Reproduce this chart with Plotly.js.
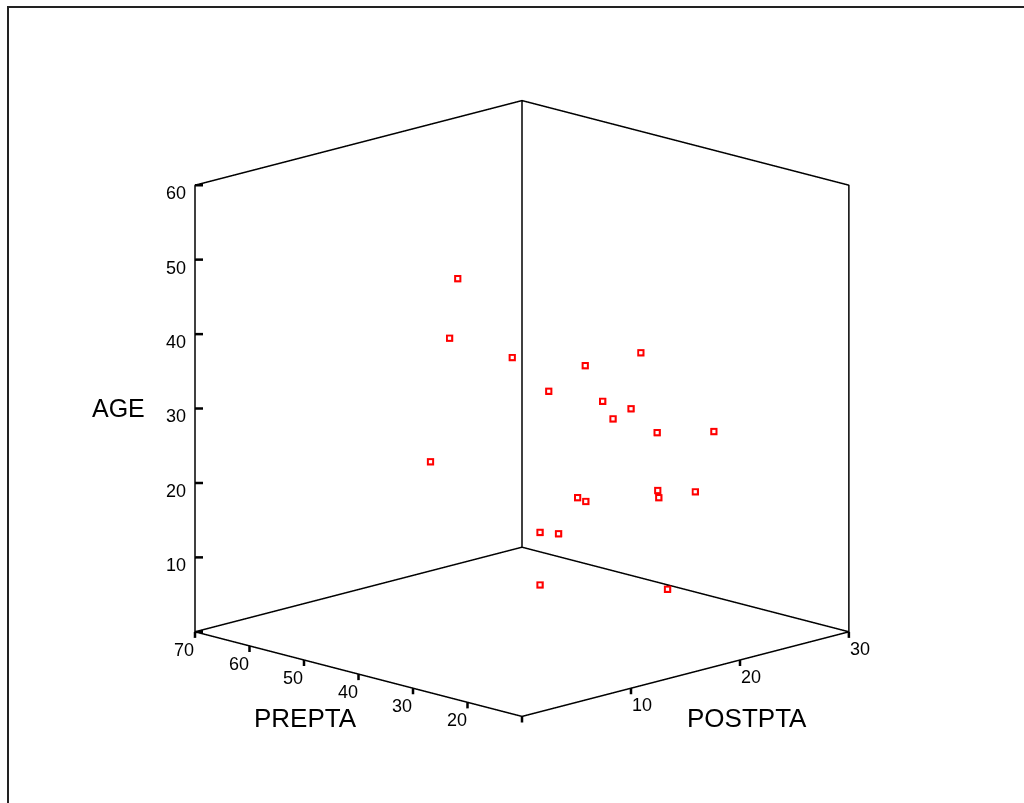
<!DOCTYPE html>
<html>
<head>
<meta charset="utf-8">
<script src="https://cdn.plot.ly/plotly-3.0.1.min.js"></script>
<style>
html,body{margin:0;padding:0;background:#fff;}
#chart{width:1024px;height:803px;}
</style>
</head>
<body>
<div id="chart"></div>
<script>
// ---- data ----
const POSTPTA = [15.3, 13.6, 17.0, 17.6, 19.8, 19.3, 20.0, 21.3, 20.0, 20.9, 23.7, 9.3, 19.9, 20.0, 21.4, 17.6, 17.3, 15.0, 15.6, 13.6, 20.0];
const PREPTA  = [52.4, 50.5, 45.8, 33.6, 27.8, 43.7, 35.2, 32.6, 33.3, 27.0, 22.2, 45.4, 24.9, 24.9, 21.0, 35.0, 32.9, 36.7, 34.5, 33.9, 23.3];
const AGE     = [45, 38, 35, 36, 38, 30, 30, 29, 28, 27, 27, 24, 20, 19, 20, 18, 18, 14, 14, 8, 7];

// axis ranges, tick positions and tick labels
const postRange = [0, 30];
const preRange  = [10, 70];
const ageRange  = [0, 60];
const postTickMarks = [0, 10, 20, 30];
const preTickMarks  = [10, 20, 30, 40, 50, 60, 70];
const ageTickMarks  = [0, 10, 20, 30, 40, 50, 60];
const postTicks = [10, 20, 30];
const preTicks  = [20, 30, 40, 50, 60, 70];
const ageTicks  = [10, 20, 30, 40, 50, 60];

const x0 = postRange[0], x1 = postRange[1];
const y0 = preRange[0],  y1 = preRange[1];
const z0 = ageRange[0],  z1 = ageRange[1];
const sx = x1 - x0, sy = y1 - y0, sz = z1 - z0;

// box outline (back walls + floor) built from the axis ranges
const bx = [x0,x1,x1,x0,x0,null, x1,x1,null, x0,x0,x1,x1,x1];
const by = [y0,y0,y1,y1,y0,null, y1,y1,null, y1,y1,y1,y0,y0];
const bz = [z0,z0,z0,z0,z0,null, z0,z1,null, z0,z1,z1,z1,z0];

// short tick marks at each tick value
const tx = [], ty = [], tz = [];
function seg(a, b) { tx.push(a[0], b[0], null); ty.push(a[1], b[1], null); tz.push(a[2], b[2], null); }
ageTickMarks.forEach(v => seg([x0, y1, v], [x0 + 0.0122*sx, y1 - 0.0122*sy, v]));
preTickMarks.forEach(v => seg([x0, v, z0], [x0, v, z0 - 0.0135*sz]));
postTickMarks.forEach(v => seg([v, y0, z0], [v, y0, z0 - 0.0135*sz]));

const FAM = 'Arial, "Liberation Sans", sans-serif';
const tickFont = {family: FAM, size: 18, color: '#000'};

const boxTrace = {
  type: 'scatter3d', mode: 'lines',
  x: bx, y: by, z: bz,
  line: {color: '#000', width: 3},
  connectgaps: false, hoverinfo: 'skip', showlegend: false
};
const tickTrace = {
  type: 'scatter3d', mode: 'lines',
  x: tx, y: ty, z: tz,
  line: {color: '#000', width: 5},
  connectgaps: false, hoverinfo: 'skip', showlegend: false
};
// hollow red square markers: red square with a small white centre
const ptsOuter = {
  type: 'scatter3d', mode: 'markers',
  x: POSTPTA, y: PREPTA, z: AGE,
  marker: {symbol: 'square', size: 3.8, color: '#ff0000', opacity: 1, line: {width: 0}},
  showlegend: false
};
const ptsInner = {
  type: 'scatter3d', mode: 'markers',
  x: POSTPTA, y: PREPTA, z: AGE,
  marker: {symbol: 'square', size: 1.7, color: '#ffffff', opacity: 1, line: {width: 0}},
  hoverinfo: 'skip', showlegend: false
};

// axis ranges padded a little so the box and ticks are not clipped
const f = 1.05;
function axis(lo, hi) {
  const p = (hi - lo) * (f - 1) / 2;
  return {
    range: [lo - p, hi + p], autorange: false,
    showticklabels: false, ticks: '',
    showgrid: false, zeroline: false, showbackground: false,
    showline: false, showspikes: false,
    title: {text: ''}
  };
}

// tick labels and titles as horizontal text anchored at the axis edges
const ann = [];
ageTicks.forEach(v => ann.push({x: x0, y: y1, z: v, text: String(v), showarrow: false,
  xanchor: 'right', xshift: -7, yshift: -8, font: tickFont}));
preTicks.forEach(v => ann.push({x: x0, y: v, z: z0, text: String(v), showarrow: false,
  xshift: -11, yshift: -18, font: tickFont}));
postTicks.forEach(v => ann.push({x: v, y: y0, z: z0, text: String(v), showarrow: false,
  xshift: 11, yshift: -17, font: tickFont}));
ann.push({x: x0, y: y1, z: (z0+z1)/2, text: 'AGE', showarrow: false, xshift: -77, yshift: 0,
  font: {family: FAM, size: 25, color: '#000'}});
ann.push({x: x0, y: (y0+y1)/2, z: z0, text: 'PREPTA', showarrow: false, xshift: -53, yshift: -44,
  font: {family: FAM, size: 26, color: '#000'}});
ann.push({x: (x0+x1)/2, y: y0, z: z0, text: 'POSTPTA', showarrow: false, xshift: 61, yshift: -44,
  font: {family: FAM, size: 26, color: '#000'}});

const r = 1.70, el = 15 * Math.PI / 180, az = 45 * Math.PI / 180;
const k = 1.172 * f;
const layout = {
  width: 1024, height: 803,
  margin: {l: 0, r: 0, t: 0, b: 0},
  paper_bgcolor: '#fff',
  showlegend: false,
  scene: {
    domain: {x: [0.02, 1], y: [0, 0.9826]},
    aspectmode: 'manual',
    aspectratio: {x: k, y: k, z: k},
    xaxis: axis(x0, x1),
    yaxis: axis(y0, y1),
    zaxis: axis(z0, z1),
    camera: {
      projection: {type: 'orthographic'},
      eye: {x: -r*Math.cos(el)*Math.cos(az), y: -r*Math.cos(el)*Math.sin(az), z: r*Math.sin(el)},
      up: {x: 0, y: 0, z: 1},
      center: {x: 0, y: 0, z: 0}
    },
    annotations: ann
  },
  shapes: [
    {type: 'rect', xref: 'paper', yref: 'paper', x0: 8/1024, x1: 1.2, y0: -0.2, y1: 1 - 7/803,
     line: {color: '#222', width: 2}, fillcolor: 'rgba(0,0,0,0)'}
  ]
};

Plotly.newPlot('chart', [boxTrace, tickTrace, ptsOuter, ptsInner], layout, {displayModeBar: false});
</script>
</body>
</html>
